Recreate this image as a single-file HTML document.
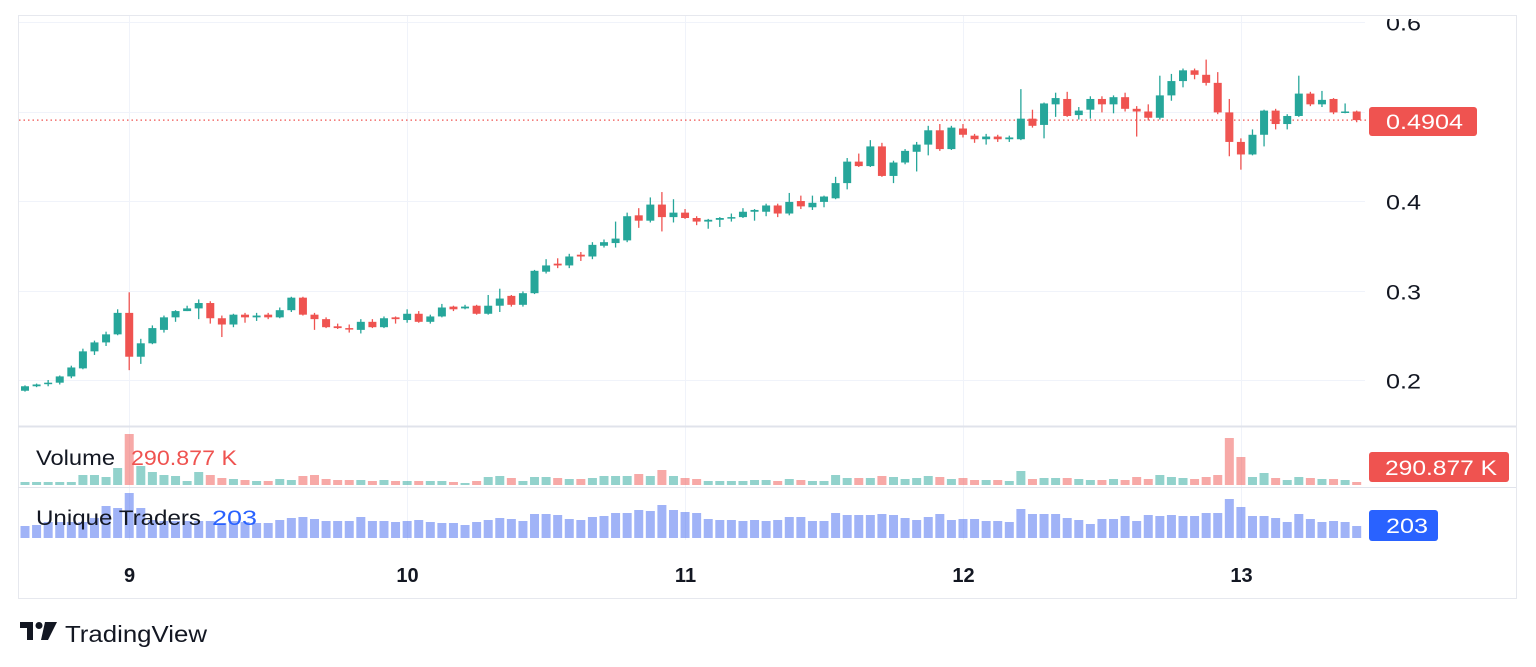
<!DOCTYPE html>
<html><head><meta charset="utf-8">
<style>
html,body{margin:0;padding:0;background:#fff;width:1536px;height:667px;overflow:hidden;font-family:"Liberation Sans",sans-serif;}
svg{position:absolute;left:0;top:0;}
</style></head>
<body>
<svg id="chart" width="1536" height="667" viewBox="0 0 1536 667" xmlns="http://www.w3.org/2000/svg">
  <defs><clipPath id="axclip"><rect x="0" y="19" width="1536" height="600"/></clipPath></defs>
  <rect x="18.5" y="15.5" width="1498" height="583" fill="#fff" stroke="#e6e8ee" stroke-width="1"/>
  <g id="grid"></g>
  <g id="candles"></g>
  <g id="vol"></g>
  <g id="trd"></g>
  <g id="axes" clip-path="url(#axclip)"></g>
  <line x1="18" y1="426.5" x2="1516" y2="426.5" stroke="#e0e3eb" stroke-width="2"/>
  <line x1="18" y1="487.5" x2="1516" y2="487.5" stroke="#e0e3eb" stroke-width="1"/>
  <text x="36" y="465" font-size="21" textLength="79" lengthAdjust="spacingAndGlyphs" fill="#131722">Volume</text>
  <text x="131" y="465" font-size="21" textLength="106" lengthAdjust="spacingAndGlyphs" fill="#ef5350">290.877 K</text>
  <text x="36" y="525" font-size="21" textLength="165" lengthAdjust="spacingAndGlyphs" fill="#131722">Unique Traders</text>
  <text x="212" y="525" font-size="21" textLength="45" lengthAdjust="spacingAndGlyphs" fill="#2962ff">203</text>
  <g>
    <rect x="1369" y="107" width="108" height="29" rx="3" fill="#ef5350"/>
    <text x="1386" y="129" font-size="21" textLength="77" lengthAdjust="spacingAndGlyphs" fill="#fff">0.4904</text>
  </g>
  <g>
    <rect x="1369" y="452" width="140" height="30" rx="3" fill="#ef5350"/>
    <text x="1385" y="475" font-size="21" textLength="112" lengthAdjust="spacingAndGlyphs" fill="#fff">290.877 K</text>
  </g>
  <g>
    <rect x="1369" y="510" width="69" height="31" rx="3" fill="#2962ff"/>
    <text x="1386" y="533" font-size="21" textLength="42" lengthAdjust="spacingAndGlyphs" fill="#fff">203</text>
  </g>
  <g>
    <path d="M20 622 h13 v18 h-6 v-12 h-7 z" fill="#131722"/>
    <circle cx="39" cy="625.5" r="3.5" fill="#131722"/>
    <path d="M45 622 h12 l-9 18 h-7 z" fill="#131722"/>
    <text x="65" y="642" font-size="23" textLength="142" lengthAdjust="spacingAndGlyphs" fill="#131722">TradingView</text>
  </g>
</svg>
<script>
const opens  = [.188,.193,.196,.197,.204,.213,.232,.242,.251,.275,.226,.241,.256,.270,.277,.280,.286,.269,.262,.273,.270,.273,.270,.278,.292,.273,.268,.260,.258,.256,.265,.259,.270,.267,.274,.265,.271,.282,.280,.283,.274,.283,.294,.284,.297,.321,.330,.328,.340,.338,.350,.353,.356,.384,.378,.396,.382,.387,.381,.377,.379,.381,.382,.388,.388,.395,.386,.400,.393,.399,.403,.420,.444,.439,.461,.428,.443,.455,.463,.479,.458,.481,.473,.469,.472,.469,.469,.492,.485,.508,.514,.496,.502,.514,.508,.516,.503,.500,.493,.518,.534,.546,.541,.532,.499,.466,.452,.474,.501,.486,.495,.520,.508,.514,.499,.500];
const closes = [.193,.195,.197,.204,.214,.232,.242,.251,.275,.226,.241,.258,.270,.277,.280,.286,.269,.262,.273,.270,.272,.270,.278,.292,.273,.268,.259,.258,.257,.265,.259,.269,.268,.274,.265,.271,.281,.279,.282,.274,.283,.291,.284,.297,.322,.328,.328,.338,.338,.351,.354,.358,.383,.378,.396,.382,.387,.381,.377,.379,.381,.382,.388,.390,.395,.386,.399,.394,.398,.405,.420,.444,.439,.461,.428,.443,.456,.463,.479,.458,.482,.474,.469,.472,.469,.471,.492,.484,.509,.515,.495,.501,.514,.508,.516,.503,.500,.493,.518,.534,.546,.541,.532,.499,.466,.452,.474,.501,.486,.495,.520,.508,.513,.499,.500,.4904];
const highs  = [.194,.196,.200,.205,.216,.235,.244,.254,.279,.298,.246,.261,.272,.278,.283,.290,.288,.272,.274,.275,.275,.275,.281,.293,.293,.275,.270,.263,.262,.268,.268,.271,.271,.279,.277,.273,.285,.283,.284,.284,.295,.302,.295,.299,.323,.335,.336,.341,.343,.354,.357,.377,.387,.392,.404,.410,.402,.391,.383,.380,.382,.386,.392,.391,.397,.397,.409,.406,.406,.406,.427,.448,.453,.468,.465,.445,.458,.466,.484,.486,.484,.486,.475,.475,.474,.473,.525,.502,.510,.521,.522,.505,.517,.517,.518,.521,.506,.508,.540,.542,.548,.548,.558,.544,.514,.470,.480,.502,.503,.497,.540,.522,.523,.515,.509,.501];
const lows   = [.187,.192,.193,.195,.202,.212,.228,.238,.250,.211,.218,.240,.253,.265,.277,.268,.263,.248,.259,.264,.266,.268,.269,.276,.272,.256,.258,.257,.253,.252,.258,.258,.263,.264,.264,.263,.270,.277,.279,.273,.273,.276,.282,.282,.296,.319,.325,.325,.333,.335,.348,.348,.354,.370,.376,.366,.376,.380,.373,.369,.371,.377,.381,.378,.383,.382,.384,.391,.390,.393,.402,.413,.438,.438,.427,.420,.441,.433,.451,.456,.457,.471,.465,.463,.466,.466,.468,.482,.470,.494,.494,.491,.492,.499,.498,.500,.472,.490,.491,.512,.527,.536,.529,.497,.450,.435,.451,.461,.480,.480,.494,.506,.505,.497,.498,.488];
const volumesK = [180,180,180,180,180,600,600,480,1020,3060,1140,780,600,540,240,780,600,420,360,300,240,240,360,300,540,600,360,300,300,300,240,300,240,240,240,240,240,180,120,240,480,540,420,240,480,480,420,360,360,420,540,540,540,660,540,900,540,420,360,240,240,240,240,300,300,240,360,300,240,240,600,420,420,420,540,480,360,420,540,480,360,420,300,300,300,240,840,360,420,420,420,360,300,300,360,300,480,360,600,480,420,360,480,600,2820,1680,480,720,420,300,480,420,360,360,300,180];
const traders = [120,130,160,160,160,160,200,320,300,450,300,180,170,170,170,170,170,150,170,160,150,150,180,200,210,190,170,170,170,210,170,170,160,170,180,160,150,150,130,160,180,200,190,170,240,240,230,190,180,210,220,250,250,280,270,330,280,260,250,190,180,180,170,180,170,180,210,210,170,170,250,230,230,230,240,230,200,180,210,240,180,190,190,170,170,160,290,240,240,240,200,180,140,190,190,220,170,230,220,230,220,220,250,250,390,310,220,220,200,160,240,190,160,170,160,120];
const priceTicks = ["0.2","0.3","0.4","0.5","0.6"];
const dayLabels = ["9","10","11","12","13"];
const dayIndex = [9,33,57,81,105];

const NS="http://www.w3.org/2000/svg";
const X0=25, STEP=11.58, CW=8;
function xAt(i){return X0+STEP*i;}
function yPrice(p){return 201-(p-0.4)*895;}
function yVol(v){return 485-v/60;}
function yTrd(t){return 538-t/10;}
function mk(tag,attrs,parent){const e=document.createElementNS(NS,tag);for(const k in attrs)e.setAttribute(k,attrs[k]);parent.appendChild(e);return e;}

const grid=document.getElementById('grid'), cg=document.getElementById('candles'), vg=document.getElementById('vol'), tg=document.getElementById('trd'), ax=document.getElementById('axes');
const UP="#26a69a", DN="#ef5350";

priceTicks.forEach(t=>{
  const y=Math.round(yPrice(+t))+0.5;
  const l=mk('line',{x1:19,x2:1365,y1:y,y2:y,stroke:"#f0f3fa","stroke-width":1},grid);
  
  
  if(t!=="0.5"){
    const tx=mk('text',{x:1386,y:y+8,"font-size":21,textLength:35,lengthAdjust:"spacingAndGlyphs",fill:"#131722"},ax);
    tx.textContent=t;
    
    
  }
});
dayLabels.forEach((d,k)=>{
  const x=Math.round(xAt(dayIndex[k]))+0.5;
  const l=mk('line',{x1:x,x2:x,y1:16,y2:540,stroke:"#f0f3fa","stroke-width":1},grid);
  
  
  const tx=mk('text',{x:x,y:582,"font-size":20,"font-weight":"bold",fill:"#131722","text-anchor":"middle"},ax);
  tx.textContent=d;
  
  
});
const lp=mk('line',{x1:19,x2:1368,y1:yPrice(closes[closes.length-1]),y2:yPrice(closes[closes.length-1]),stroke:DN,"stroke-width":1.3,"stroke-dasharray":"1.5 3"},grid);



opens.forEach((o,i)=>{
  const c=closes[i], up=c>=o, col=up?UP:DN, x=xAt(i);
  const g=mk('g',{},cg);
  
  
  mk('line',{x1:x,x2:x,y1:yPrice(highs[i]),y2:yPrice(lows[i]),stroke:col,"stroke-width":1.3},g);
  const top=yPrice(Math.max(o,c)), bot=yPrice(Math.min(o,c));
  mk('rect',{x:x-CW/2,y:top,width:CW,height:Math.max(1.5,bot-top),fill:col},g);
  const vb=mk('rect',{x:x-CW/2-0.5,y:yVol(volumesK[i]),width:CW+1,height:485-yVol(volumesK[i]),fill:up?"rgba(38,166,154,0.5)":"rgba(239,83,80,0.5)"},vg);
  
  
  const tb=mk('rect',{x:x-CW/2-0.5,y:yTrd(traders[i]),width:CW+1,height:538-yTrd(traders[i]),fill:"rgba(66,104,240,0.5)"},tg);
  
  
});
</script>
</body></html>
